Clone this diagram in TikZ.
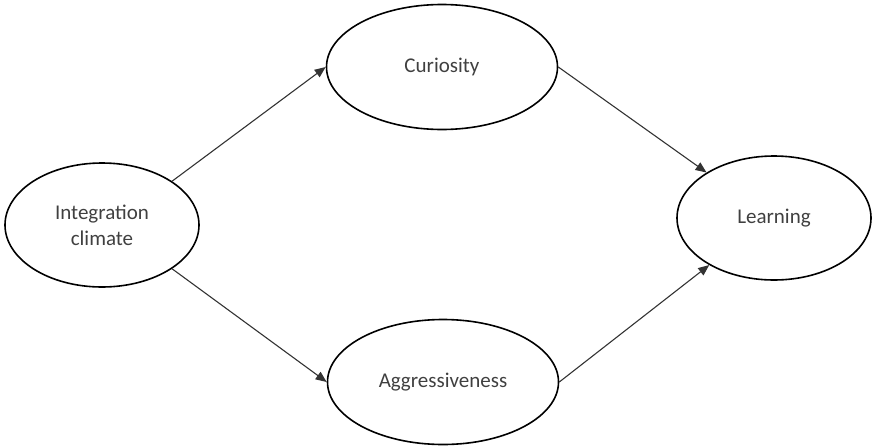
\documentclass[tikz,border=0pt]{standalone}
\usepackage{fontspec}
\setmainfont{Carlito}
\usetikzlibrary{shapes.geometric,arrows.meta}
\begin{document}
\begin{tikzpicture}[x=1pt,y=-1pt,
  oval/.style={ellipse,draw=black,line width=1.6pt,inner sep=0pt,
    font=\fontsize{21}{26}\selectfont,text=black!75,align=center},
  small/.style={oval,minimum width=194pt,minimum height=124pt},
  big/.style={oval,minimum width=231pt,minimum height=125pt},
  link/.style={draw=black!80,line width=1.1pt,-{Triangle[length=11pt,width=9pt]}}]
\useasboundingbox (0,0) rectangle (872,447);
\node[small] (int) at (102,225) {Integration\\climate};
\node[big] (cur) at (442,67) {Curiosity};
\node[big] (agg) at (443,382) {Aggressiveness};
\node[small] (lea) at (774,218) {Learning};
\draw[link] (int.32) -- (cur.west);
\draw[link] (int.-32) -- (agg.west);
\draw[link] (cur.east) -- (lea.146);
\draw[link] (agg.east) -- (lea.216);
\end{tikzpicture}
\end{document}
